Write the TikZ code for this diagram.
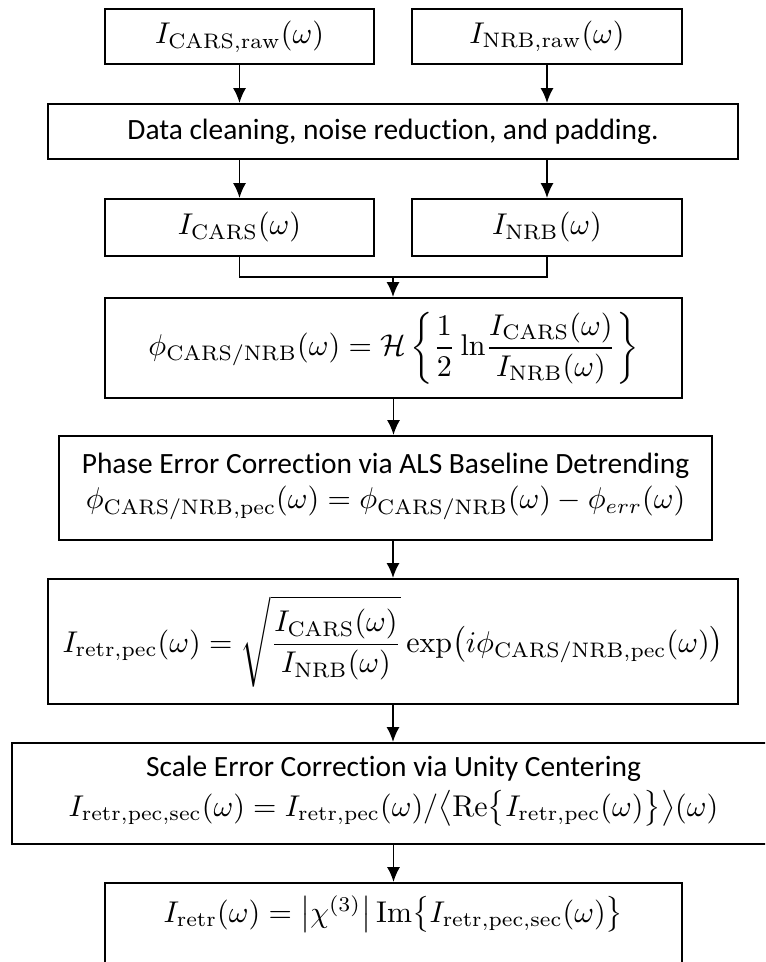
\documentclass[tikz,border=0pt]{standalone}
\usepackage{amsmath}
\usepackage{fontspec}
\newfontfamily\calibri[Ligatures=NoCommon]{Carlito}
\usetikzlibrary{arrows.meta}
\newcommand\pxu{0.3333pt}
\begin{document}
\begin{tikzpicture}[x=0.3333pt,y=-0.3333pt,
  box/.style={draw, line width=0.65pt, inner sep=0pt, align=center},
  arr/.style={-{Latex[length=5pt,width=4.4pt]}, line width=0.65pt},
  ln/.style={line width=0.65pt},
  txt/.style={font=\calibri\fontsize{9.8}{12}\selectfont, inner sep=0pt},
  mth/.style={inner sep=0pt}]
\path[use as bounding box] (0,0) rectangle (765,962);
\clip (0,0) rectangle (765,962);
% row 1
\node[box, minimum width=269*\pxu, minimum height=55*\pxu] (cr) at (239.5,36.5) {$I_{\mathrm{CARS,raw}}(\omega)$};
\node[box, minimum width=270*\pxu, minimum height=55*\pxu] (nr) at (547,36.5) {$I_{\mathrm{NRB,raw}}(\omega)$};
% cleaning
\node[box, minimum width=690*\pxu, minimum height=55*\pxu, font=\calibri\fontsize{9.8}{12}\selectfont] (clean) at (393,131.5) {Data cleaning, noise reduction, and padding.};
% row 3
\node[box, minimum width=269*\pxu, minimum height=57*\pxu] (c) at (239.5,227.5) {$I_{\mathrm{CARS}}(\omega)$};
\node[box, minimum width=270*\pxu, minimum height=57*\pxu] (n) at (547,227.5) {$I_{\mathrm{NRB}}(\omega)$};
\coordinate (join) at (393,277);
% phase
\node[box, minimum width=577*\pxu, minimum height=100*\pxu] (phi) at (393.5,348) {$\displaystyle \phi_{\mathrm{CARS/NRB}}(\omega)=\mathcal{H}\left\{\frac{1}{2}\ln\!\frac{I_{\mathrm{CARS}}(\omega)}{I_{\mathrm{NRB}}(\omega)}\right\}$};
% phase error correction
\node[box, minimum width=653*\pxu, minimum height=104*\pxu] (pec) at (385.5,488) {};
\node[txt, anchor=base] (pect) at (385.5,474) {Phase Error Correction via ALS Baseline Detrending};
\node[mth, anchor=base] (pecm) at (385.5,509) {$\phi_{\mathrm{CARS/NRB,pec}}(\omega)=\phi_{\mathrm{CARS/NRB}}(\omega)-\phi_{err}(\omega)$};
% retrieval
\node[box, minimum width=690*\pxu, minimum height=125*\pxu] (retr) at (393,641.5) {$\displaystyle I_{\mathrm{retr,pec}}(\omega)=\sqrt{\frac{I_{\mathrm{CARS}}(\omega)}{I_{\mathrm{NRB}}(\omega)}}\exp\bigl(i\phi_{\mathrm{CARS/NRB,pec}}(\omega)\bigr)$};
% scale error correction
\node[box, minimum width=763*\pxu, minimum height=101*\pxu] (sec) at (393.5,793.5) {};
\node[txt, anchor=base] (sect) at (393.5,776) {Scale Error Correction via Unity Centering};
\node[mth, anchor=base] (secm) at (393.5,816) {$I_{\mathrm{retr,pec,sec}}(\omega)=I_{\mathrm{retr,pec}}(\omega)/\big\langle\mathrm{Re}\big\{I_{\mathrm{retr,pec}}(\omega)\big\}\big\rangle(\omega)$};
% final
\node[box, minimum width=577*\pxu, minimum height=110*\pxu] (fin) at (393.5,938) {};
\node[mth, anchor=base] (finm) at (393.5,922) {$I_{\mathrm{retr}}(\omega)=\big|\chi^{(3)}\big|\,\mathrm{Im}\big\{I_{\mathrm{retr,pec,sec}}(\omega)\big\}$};
% connectors
\draw[arr] (cr.south) -- (cr.south |- clean.north);
\draw[arr] (nr.south) -- (nr.south |- clean.north);
\draw[arr] (c.north |- clean.south) -- (c.north);
\draw[arr] (n.north |- clean.south) -- (n.north);
\draw[ln] (c.south) |- (join) -| (n.south);
\draw[arr] (join) -- (join |- phi.north);
\draw[arr] (phi.south) -- (phi.south |- pec.north);
\draw[arr] (retr.north |- pec.south) -- (retr.north);
\draw[arr] (retr.south) -- (retr.south |- sec.north);
\draw[arr] (fin.north |- sec.south) -- (fin.north);
\end{tikzpicture}
\end{document}
